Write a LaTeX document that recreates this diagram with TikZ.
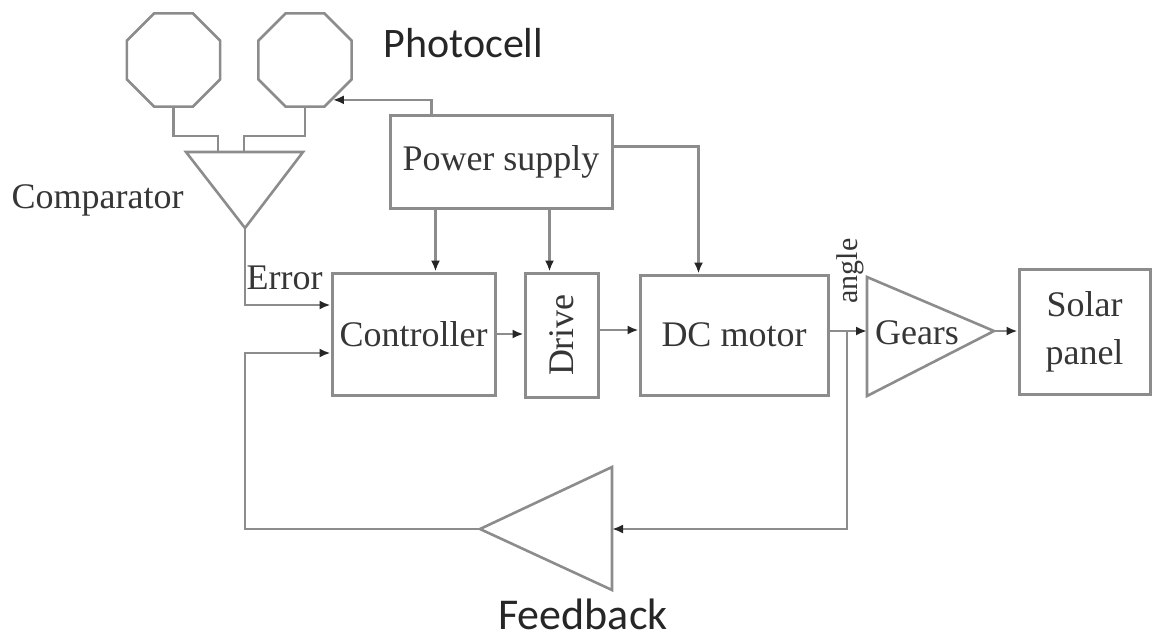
\documentclass[tikz,border=0pt]{standalone}
\usepackage{fontspec}
\setmainfont{Liberation Serif}
\newfontfamily\calfont{Carlito}
\usepackage{graphicx}
\usetikzlibrary{shapes.geometric,arrows.meta,calc}
\definecolor{linegray}{HTML}{8C8C8C}
\definecolor{textgray}{HTML}{363636}

\begin{document}
\begin{tikzpicture}[x=1pt,y=-1pt,font=\fontsize{36}{48}\selectfont,text=textgray,
  blk/.style={draw=linegray,line width=3pt,inner sep=0pt},
  wire/.style={draw=linegray,line width=2.2pt},
  arr/.style={wire,-{Latex[length=11pt,width=9pt,color=black!85]}},
  cell/.style={draw=linegray,line width=2.6pt,regular polygon,regular polygon sides=8,minimum size=101pt,inner sep=0pt},
  sans/.style={font=\calfont\fontsize{#1}{48}\selectfont,text=black!85}]
  \useasboundingbox (0,0) rectangle (1152,641);
  % photocells and comparator
  \node[cell] (cellA) at (173.5,60) {};
  \node[cell] (cellB) at (305,60) {};
  \node[sans=42,anchor=west] (photo) at (380,43) {Photocell};
  \coordinate (cmpL) at (186,152);
  \coordinate (cmpR) at (303,152);
  \coordinate (cmp) at (245,228);
  \draw[blk,line width=2.6pt] (cmpL) -- (cmpR) -- (cmp) -- cycle;
  \node[anchor=west] (cmpText) at (8,200) {Comparator};
  \draw[wire] (cellA.south) -- ++(0,28) -| (218,152);
  \draw[wire] (cellB.south) -- ++(0,28) -| (244,152);
  % blocks
  \node[blk,minimum width=222pt,minimum height=93pt] (psu) at (501,161.5) {Power supply};
  \node[blk,minimum width=163pt,minimum height=122pt] (ctrl) at (413.5,334) {Controller};
  \node[blk,minimum width=73pt,minimum height=124pt] (drive) at (561.5,335) {\rotatebox{90}{Drive}};
  \node[blk,minimum width=188pt,minimum height=120pt] (motor) at (734,335) {DC motor};
  \node[blk,minimum width=131pt,minimum height=125pt,align=center] (panel) at (1084.5,331.5) {Solar\\panel};
  \coordinate (gearT) at (867,277);
  \coordinate (gearB) at (867,396);
  \coordinate (gear) at (994,331);
  \draw[blk,line width=2.6pt] (gearT) -- (gear) -- (gearB) -- cycle;
  \node (gearText) at (917,333) {Gears};
  \node[rotate=90,font=\fontsize{30}{36}\selectfont] (angle) at (850,271) {angle};
  % power supply lines
  \coordinate (pwC) at ($(psu.south west)+(47,0)$);
  \coordinate (pwD) at ($(psu.south west)+(161,0)$);
  \draw[arr] ($(psu.north west)+(43,0)$) |- (cellB.-55);
  \draw[arr] (pwC) -- (pwC |- ctrl.north);
  \draw[arr] (pwD) -- (pwD |- drive.north);
  \draw[arr] ($(psu.north east)+(0,33)$) -| ($(motor.north west)+(60,0)$);
  % forward path
  \coordinate (errIn) at (ctrl.west |- 0,305);
  \draw[arr] (cmp) |- (errIn);
  \node[anchor=base west] (err) at (243,289) {Error};
  \draw[arr] (ctrl.east) -- (ctrl.east -| drive.west);
  \draw[arr] ([yshift=5pt]drive.east) -- ([yshift=5pt]drive.east -| motor.west);
  \draw[arr] (motor.east |- gear) -- (gearT |- gear);
  \draw[arr] (gear) -- (gear -| panel.west);
  % feedback loop
  \coordinate (fbT) at (612,467);
  \coordinate (fbB) at (612,590);
  \coordinate (fb) at (480,529);
  \draw[blk,line width=2.6pt] (fbT) -- (fb) -- (fbB) -- cycle;
  \node[sans=44] (fbText) at (583,614) {Feedback};
  \coordinate (tap) at (847,331);
  \coordinate (fbIn) at (ctrl.west |- 0,353);
  \draw[arr] (tap) |- (fbT |- fb);
  \draw[arr] (fb) -| (245,353) -- (fbIn);
\end{tikzpicture}
\end{document}
